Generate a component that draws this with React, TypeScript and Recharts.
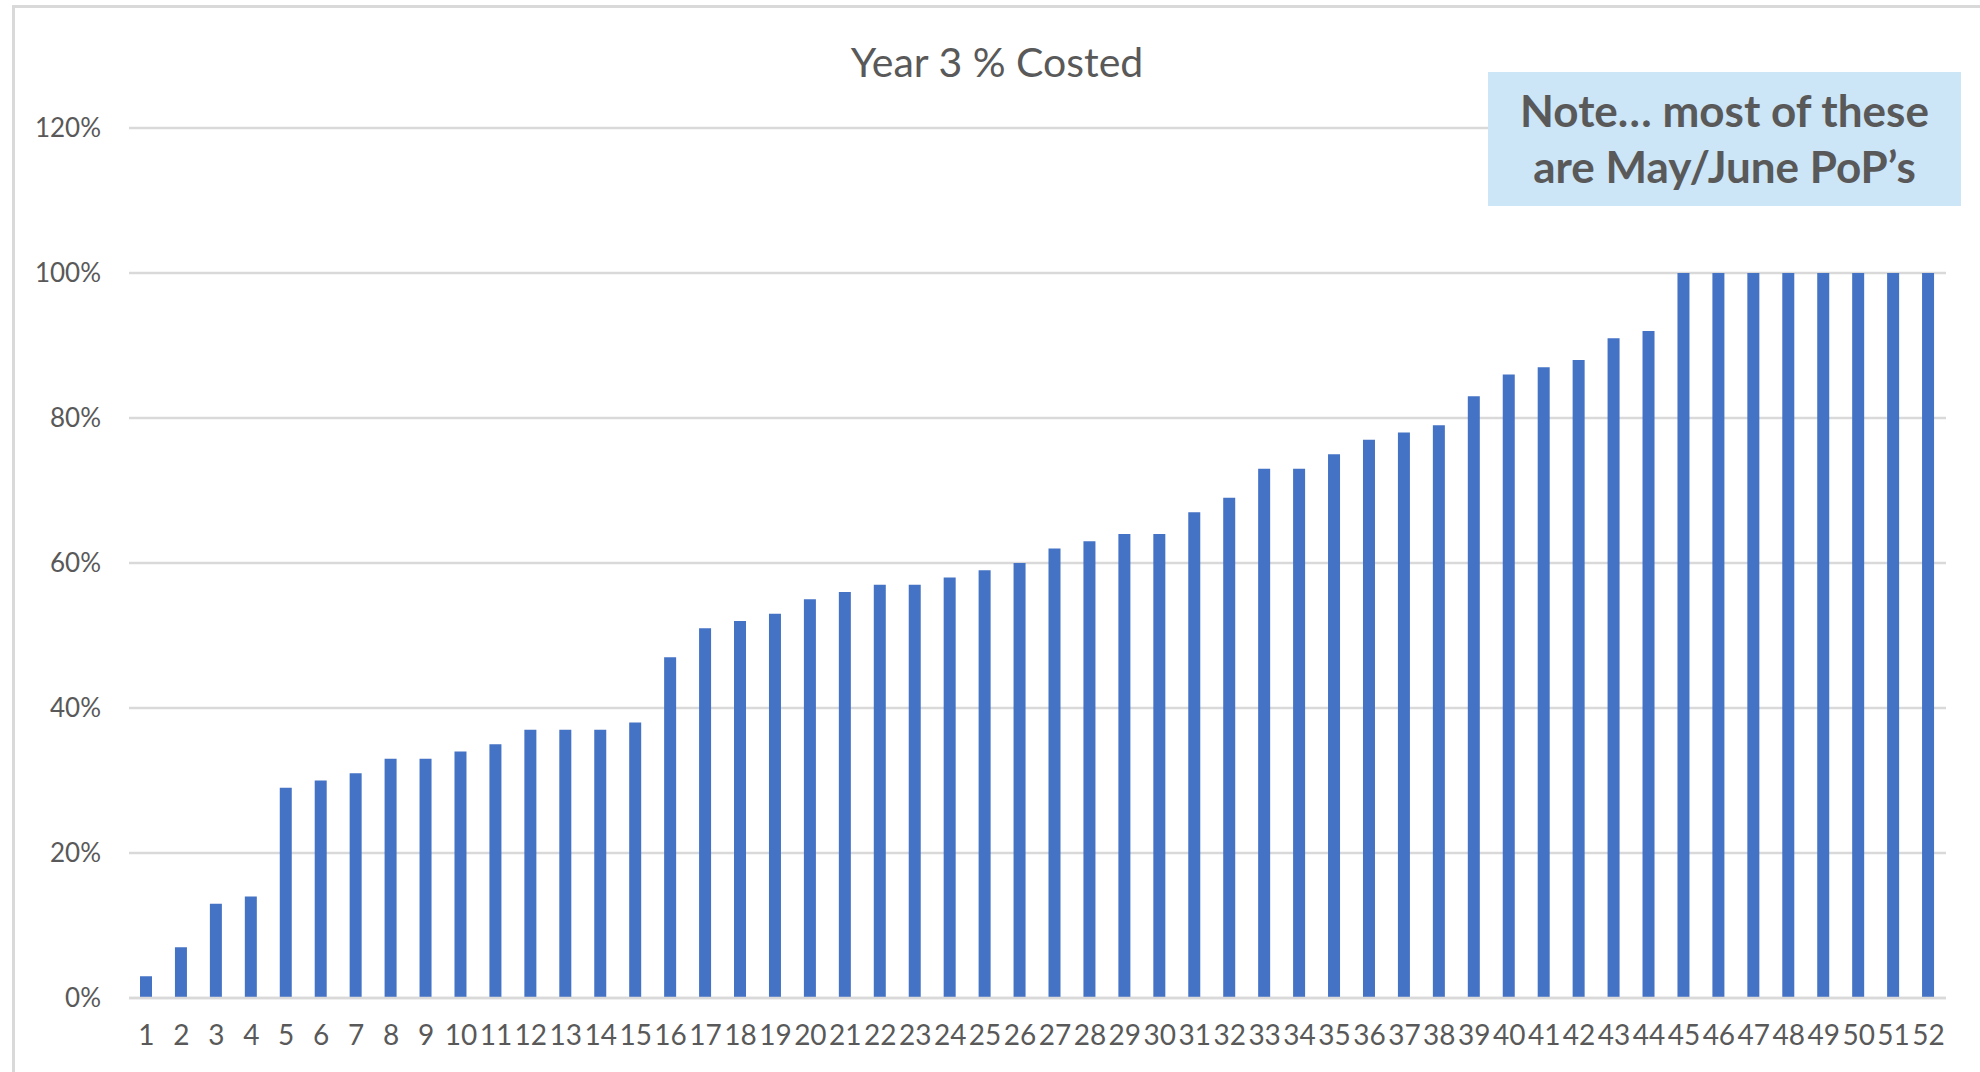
import React from "react";
import { BarChart, Bar, XAxis, YAxis, CartesianGrid } from "recharts";

const categories = [
  "1", "2", "3", "4", "5", "6", "7", "8", "9", "10",
  "11", "12", "13", "14", "15", "16", "17", "18", "19", "20",
  "21", "22", "23", "24", "25", "26", "27", "28", "29", "30",
  "31", "32", "33", "34", "35", "36", "37", "38", "39", "40",
  "41", "42", "43", "44", "45", "46", "47", "48", "49", "50",
  "51", "52",
];

const costed = [
  3, 7, 13, 14, 29, 30, 31, 33, 33, 34,
  35, 37, 37, 37, 38, 47, 51, 52, 53, 55,
  56, 57, 57, 58, 59, 60, 62, 63, 64, 64,
  67, 69, 73, 73, 75, 77, 78, 79, 83, 86,
  87, 88, 91, 92, 100, 100, 100, 100, 100, 100,
  100, 100,
];

const yTicks = [0, 20, 40, 60, 80, 100, 120];

const title = "Year 3 % Costed";
const noteLines = ["Note… most of these", "are May/June PoP’s"];

const data = categories.map((c, i) => ({ name: c, value: costed[i] }));

const FONT = "Lato, 'Open Sans', sans-serif";
const TEXT = "#595959";
const GRID = "#D9D9D9";

export default function App() {
  return (
    <div
      style={{
        position: "absolute",
        left: 0,
        top: 0,
        width: 1980,
        height: 1072,
        overflow: "hidden",
        background: "#fff",
        fontFamily: FONT,
      }}
    >
      <div
        style={{
          position: "absolute",
          left: 12,
          top: 5,
          width: 1990,
          height: 1100,
          border: `3px solid ${GRID}`,
          boxSizing: "border-box",
        }}
      />
      <div
        style={{
          position: "absolute",
          left: 13,
          top: 37,
          width: 1968,
          textAlign: "center",
          fontSize: 41,
          lineHeight: "50px",
          color: TEXT,
        }}
      >
        {title}
      </div>
      <div style={{ position: "absolute", left: 0, top: 0 }}>
        <BarChart
          width={1980}
          height={1072}
          data={data}
          margin={{ top: 128, right: 34, bottom: 14, left: 29 }}
          barSize={12}
        >
          <CartesianGrid
            vertical={false}
            stroke={GRID}
            strokeWidth={2.5}
          />
          <XAxis
            dataKey="name"
            interval={0}
            height={60}
            axisLine={{ stroke: GRID, strokeWidth: 2.5 }}
            tickLine={false}
            tickMargin={21}
            tick={{ fill: TEXT, fontSize: 28, fontFamily: FONT }}
          />
          <YAxis
            width={100}
            domain={[0, 120]}
            ticks={yTicks}
            axisLine={false}
            tickLine={false}
            tickMargin={22}
            tickFormatter={(v: number) => `${v}%`}
            tick={{ fill: TEXT, fontSize: 26, fontFamily: FONT }}
          />
          <Bar dataKey="value" fill="#4472C4" isAnimationActive={false} />
        </BarChart>
      </div>
      <div
        style={{
          position: "absolute",
          left: 1488,
          top: 72,
          width: 473,
          height: 134,
          background: "#CCE5F7",
          color: TEXT,
          fontWeight: 700,
          fontSize: 44,
          lineHeight: "56px",
          textAlign: "center",
          paddingTop: 10,
          boxSizing: "border-box",
        }}
      >
        {noteLines.map((l) => (
          <div key={l}>{l}</div>
        ))}
      </div>
    </div>
  );
}
